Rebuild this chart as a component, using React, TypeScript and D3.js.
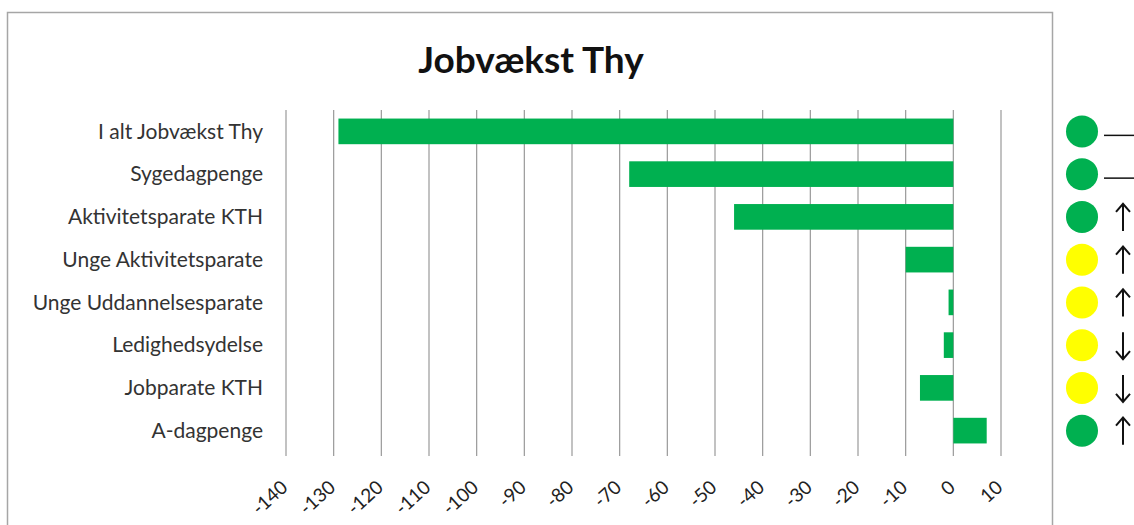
import React from 'react';
import * as d3 from 'd3';

// kategorier fra top til bund
const categories = [
  'I alt Jobvækst Thy',
  'Sygedagpenge',
  'Aktivitetsparate KTH',
  'Unge Aktivitetsparate',
  'Unge Uddannelsesparate',
  'Ledighedsydelse',
  'Jobparate KTH',
  'A-dagpenge',
];
const values = [-129, -68, -46, -10, -1, -2, -7, 7];
const statusColors = ['green', 'green', 'green', 'yellow', 'yellow', 'yellow', 'yellow', 'green'];
const trends = ['flat', 'flat', 'up', 'up', 'up', 'down', 'down', 'up'];
const ticks = [-140, -130, -120, -110, -100, -90, -80, -70, -60, -50, -40, -30, -20, -10, 0, 10];

const W = 1134;
const H = 525;
const FONT = 'Lato, "Open Sans", sans-serif';
const colorMap: Record<string, string> = { green: '#00b050', yellow: '#ffff00' };

const App = () => {
  const x = d3.scaleLinear().domain([-140, 10]).range([286, 1001]);
  const y = d3.scaleBand<string>().domain(categories).range([110, 452]).paddingInner(0.4).paddingOuter(0.2);
  const rowY = d3.scaleBand<string>().domain(categories).range([110, 452]);
  const cy = (c: string) => (rowY(c) ?? 0) + rowY.bandwidth() / 2;

  return (
    <svg width={W} height={H} style={{ position: 'absolute', left: 0, top: 0, background: '#fff' }}>
      {/* ramme */}
      <rect x={7.5} y={12.5} width={1045} height={600} fill="none" stroke="#a6a6a6" strokeWidth={1.5} />

      <text x={531} y={73} textAnchor="middle" fontFamily={FONT} fontWeight="bold" fontSize={37} fill="#111">
        Jobvækst Thy
      </text>

      {/* gitterlinjer */}
      {ticks.map((t) => (
        <line key={t} x1={x(t)} x2={x(t)} y1={110} y2={456} stroke="#999" strokeWidth={1.2} />
      ))}

      {/* søjler */}
      {categories.map((c, i) => (
        <rect
          key={c}
          x={x(Math.min(0, values[i]))}
          y={y(c)}
          width={Math.abs(x(values[i]) - x(0))}
          height={y.bandwidth()}
          fill="#00b050"
        />
      ))}

      {/* kategorinavne */}
      {categories.map((c) => (
        <text key={c} x={263} y={cy(c)} dy="0.35em" textAnchor="end" fontFamily={FONT} fontSize={21} fill="#333">
          {c}
        </text>
      ))}

      {/* aksetekster */}
      {ticks.map((t) => (
        <text
          key={t}
          transform={`translate(${x(t) + 3},${489}) rotate(-42)`}
          textAnchor="end"
          fontFamily={FONT}
          fontSize={19}
          fill="#222"
        >
          {t}
        </text>
      ))}

      {/* status og tendens */}
      {categories.map((c, i) => {
        const cc = cy(c);
        const ax = 1123;
        return (
          <g key={c}>
            <circle cx={1082} cy={cc} r={16} fill={colorMap[statusColors[i]]} />
            {trends[i] === 'flat' && (
              <line x1={1104} x2={1134} y1={cc + 4} y2={cc + 4} stroke="#111" strokeWidth={1.5} />
            )}
            {trends[i] === 'up' && (
              <g stroke="#111" strokeWidth={2} fill="none">
                <line x1={ax} x2={ax} y1={cc - 13} y2={cc + 14} />
                <polyline points={`${ax - 7},${cc - 5} ${ax},${cc - 13} ${ax + 7},${cc - 5}`} />
              </g>
            )}
            {trends[i] === 'down' && (
              <g stroke="#111" strokeWidth={2} fill="none">
                <line x1={ax} x2={ax} y1={cc - 13} y2={cc + 14} />
                <polyline points={`${ax - 7},${cc + 6} ${ax},${cc + 14} ${ax + 7},${cc + 6}`} />
              </g>
            )}
          </g>
        );
      })}
    </svg>
  );
};

export default App;
